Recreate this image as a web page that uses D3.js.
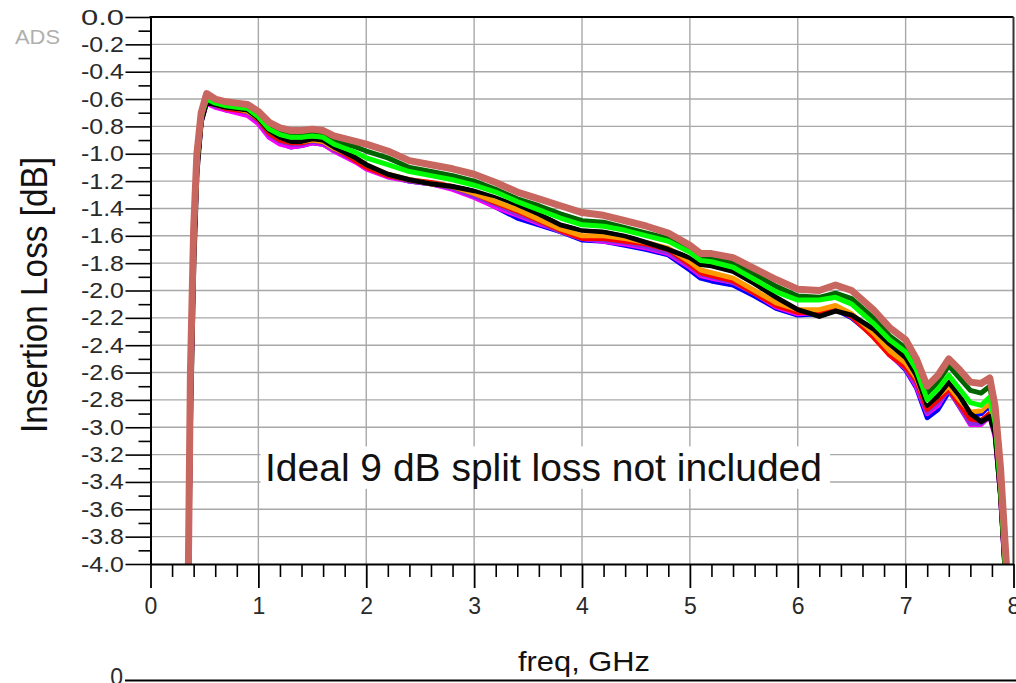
<!DOCTYPE html>
<html><head><meta charset="utf-8">
<script src="https://cdn.jsdelivr.net/npm/d3@7"></script>
<style>html,body{margin:0;padding:0;background:#fff;overflow:hidden}</style>
</head><body>
<svg id="chart" width="1016" height="683"></svg>
<script>
// ---------- data ----------
const freqGHz = [0.33,0.35,0.37,0.40,0.43,0.47,0.52,0.6,0.7,0.8,0.9,1.0,1.1,1.2,1.3,1.4,1.5,1.6,1.7,1.8,1.9,2.0,2.2,2.4,2.6,2.8,3.0,3.2,3.4,3.6,3.8,4.0,4.2,4.4,4.6,4.8,5.0,5.1,5.2,5.4,5.6,5.8,6.0,6.2,6.35,6.5,6.7,6.85,7.0,7.1,7.2,7.3,7.4,7.5,7.6,7.7,7.78,7.83,7.88,7.93,7.98];

const lossBlue = [-5.0,-4.3,-2.85,-1.72,-1.1,-0.76,-0.62, -0.65,-0.68,-0.69,-0.71,-0.77, -0.87,-0.92,-0.95,-0.94,-0.92,-0.93,-0.97,-1.01,-1.05,-1.10, -1.16,-1.20,-1.22,-1.25,-1.31,-1.39,-1.47,-1.52,-1.57,-1.63,-1.64,-1.67,-1.70,-1.74,-1.85, -1.91, -1.93,-1.96,-2.04,-2.13,-2.18,-2.17, -2.14,-2.20,-2.33,-2.46,-2.58, -2.71,-2.93,-2.87,-2.74,-2.82,-2.92,-2.90, -2.84,-3.01,-3.48,-4.12,-4.8];
const lossMagenta = [-5.0,-4.3,-2.85,-1.72,-1.1,-0.76,-0.63, -0.66,-0.68,-0.70,-0.72,-0.78, -0.88,-0.93,-0.95,-0.94,-0.92,-0.93,-0.98,-1.02,-1.06,-1.11, -1.17,-1.20,-1.22,-1.26,-1.32,-1.39,-1.45,-1.51,-1.56,-1.62,-1.64,-1.66,-1.69,-1.73,-1.83, -1.89, -1.91,-1.94,-2.02,-2.12,-2.17,-2.16, -2.13,-2.19,-2.32,-2.47,-2.57, -2.70,-2.90,-2.84,-2.71,-2.85,-2.98,-2.98, -2.92,-3.07,-3.50,-4.15,-4.8];
const lossPurple = [-5.0,-4.3,-2.85,-1.72,-1.1,-0.76,-0.62, -0.65,-0.67,-0.68,-0.70,-0.76, -0.86,-0.91,-0.93,-0.93,-0.91,-0.92,-0.97,-1.01,-1.05,-1.10, -1.16,-1.20,-1.22,-1.25,-1.31,-1.37,-1.44,-1.50,-1.57,-1.62,-1.63,-1.65,-1.68,-1.72,-1.82, -1.88, -1.90,-1.94,-2.02,-2.11,-2.16,-2.15, -2.12,-2.19,-2.33,-2.46,-2.57, -2.68,-2.89,-2.82,-2.73,-2.85,-2.97,-2.97, -2.92,-3.05,-3.50,-4.15,-4.8];
const lossRed = [-5.0,-4.25,-2.8,-1.7,-1.08,-0.75,-0.62, -0.64,-0.67,-0.68,-0.69,-0.75, -0.85,-0.90,-0.92,-0.92,-0.90,-0.91,-0.96,-1.00,-1.05,-1.10, -1.16,-1.19,-1.21,-1.24,-1.29,-1.36,-1.42,-1.49,-1.56,-1.62,-1.62,-1.64,-1.66,-1.70,-1.81, -1.87, -1.89,-1.93,-2.02,-2.11,-2.16,-2.16, -2.13,-2.19,-2.34,-2.47,-2.56, -2.66,-2.87,-2.80,-2.72,-2.83,-2.94,-2.95, -2.90,-3.03,-3.48,-4.12,-4.8];
const lossOrange = [-5.0,-4.25,-2.8,-1.7,-1.08,-0.74,-0.61, -0.64,-0.66,-0.67,-0.69,-0.74, -0.83,-0.88,-0.91,-0.91,-0.90,-0.91,-0.96,-0.99,-1.03,-1.08, -1.15,-1.19,-1.22,-1.24,-1.29,-1.35,-1.41,-1.48,-1.55,-1.60,-1.60,-1.62,-1.65,-1.69,-1.79, -1.85, -1.87,-1.91,-2.00,-2.09,-2.14,-2.14, -2.11,-2.17,-2.31,-2.44,-2.53, -2.64,-2.84,-2.77,-2.70,-2.80,-2.89,-2.88, -2.82,-2.99,-3.45,-4.10,-4.8];
const lossBlack = [-5.0,-4.4,-3.0,-1.85,-1.15,-0.77,-0.62, -0.64,-0.66,-0.67,-0.68,-0.74, -0.83,-0.88,-0.91,-0.91,-0.89,-0.90,-0.95,-0.99,-1.03,-1.08, -1.15,-1.19,-1.22,-1.24,-1.27,-1.31,-1.37,-1.44,-1.52,-1.56,-1.57,-1.60,-1.65,-1.70,-1.76, -1.81, -1.82,-1.86,-1.95,-2.05,-2.14,-2.19, -2.15,-2.18,-2.28,-2.39,-2.49, -2.62,-2.84,-2.77,-2.67,-2.77,-2.90,-2.96, -2.92,-3.05,-3.50,-4.15,-4.8];
const lossWhite = [-5.0,-4.25,-2.8,-1.68,-1.07,-0.74,-0.61, -0.63,-0.65,-0.66,-0.68,-0.73, -0.82,-0.87,-0.89,-0.89,-0.88,-0.89,-0.94,-0.97,-1.00,-1.04, -1.10,-1.15,-1.18,-1.21,-1.25,-1.30,-1.36,-1.42,-1.49,-1.54,-1.55,-1.58,-1.62,-1.66,-1.74, -1.79, -1.80,-1.84,-1.93,-2.02,-2.08,-2.09, -2.07,-2.12,-2.24,-2.36,-2.46, -2.60,-2.82,-2.74,-2.64,-2.74,-2.84,-2.86, -2.80,-2.99,-3.45,-4.10,-4.8];
const lossDarkGreen = [-5.0,-4.2,-2.7,-1.62,-1.04,-0.72,-0.59, -0.62,-0.64,-0.65,-0.66,-0.71, -0.80,-0.84,-0.86,-0.86,-0.85,-0.86,-0.90,-0.93,-0.95,-0.98, -1.03,-1.10,-1.13,-1.16,-1.20,-1.26,-1.33,-1.38,-1.44,-1.49,-1.50,-1.54,-1.58,-1.62,-1.70, -1.76, -1.76,-1.80,-1.88,-1.97,-2.04,-2.05, -2.02,-2.06,-2.20,-2.33,-2.42, -2.55,-2.75,-2.67,-2.55,-2.64,-2.73,-2.75, -2.70,-2.92,-3.40,-4.05,-4.7];
const lossGreen = [-5.0,-4.2,-2.75,-1.65,-1.06,-0.73,-0.60, -0.63,-0.65,-0.66,-0.67,-0.73, -0.82,-0.86,-0.88,-0.88,-0.87,-0.88,-0.93,-0.96,-0.99,-1.03, -1.08,-1.13,-1.16,-1.19,-1.23,-1.28,-1.35,-1.41,-1.47,-1.52,-1.53,-1.56,-1.60,-1.64,-1.72, -1.78, -1.79,-1.83,-1.92,-2.01,-2.07,-2.07, -2.05,-2.10,-2.24,-2.36,-2.45, -2.58,-2.80,-2.72,-2.62,-2.72,-2.82,-2.84, -2.78,-2.97,-3.45,-4.10,-4.8];
const lossBrown = [-5.0,-4.1,-2.6,-1.55,-1.0,-0.70,-0.56, -0.60,-0.62,-0.63,-0.64,-0.69, -0.77,-0.81,-0.83,-0.83,-0.82,-0.83,-0.87,-0.89,-0.91,-0.93, -0.98,-1.05,-1.08,-1.11,-1.15,-1.21,-1.28,-1.33,-1.38,-1.43,-1.45,-1.49,-1.53,-1.58,-1.67, -1.73, -1.73,-1.76,-1.84,-1.92,-1.99,-2.00, -1.96,-2.00,-2.14,-2.27,-2.36, -2.50,-2.70,-2.62,-2.50,-2.58,-2.67,-2.68, -2.64,-2.85,-3.30,-3.95,-4.6];

const traceNames = ["blue","magenta","purple","red","orange","black","white","darkgreen","green","brown"];
const traceValues = [lossBlue,lossMagenta,lossPurple,lossRed,lossOrange,lossBlack,lossWhite,lossDarkGreen,lossGreen,lossBrown];

const yTicks = [0,-0.2,-0.4,-0.6,-0.8,-1.0,-1.2,-1.4,-1.6,-1.8,-2.0,-2.2,-2.4,-2.6,-2.8,-3.0,-3.2,-3.4,-3.6,-3.8,-4.0];
const yTickLabels = ["0.0","-0.2","-0.4","-0.6","-0.8","-1.0","-1.2","-1.4","-1.6","-1.8","-2.0","-2.2","-2.4","-2.6","-2.8","-3.0","-3.2","-3.4","-3.6","-3.8","-4.0"];
const yMinorTicks = [-0.1,-0.3,-0.5,-0.7,-0.9,-1.1,-1.3,-1.5,-1.7,-1.9,-2.1,-2.3,-2.5,-2.7,-2.9,-3.1,-3.3,-3.5,-3.7,-3.9];
const xTicks = [0,1,2,3,4,5,6,7,8];
const xTickLabels = ["0","1","2","3","4","5","6","7","8"];
const xMinorTicks = [0.2,0.4,0.6,0.8,1.2,1.4,1.6,1.8,2.2,2.4,2.6,2.8,3.2,3.4,3.6,3.8,4.2,4.4,4.6,4.8,5.2,5.4,5.6,5.8,6.2,6.4,6.6,6.8,7.2,7.4,7.6,7.8];

const titleY = "Insertion Loss [dB]";
const titleX = "freq, GHz";
const noteText = "Ideal 9 dB split loss not included";

// ---------- styles ----------
const traceStyle = {
  blue:{c:"#0000ff",w:5}, magenta:{c:"#ff00ff",w:5}, purple:{c:"#8a2be2",w:5},
  red:{c:"#ff0000",w:5}, orange:{c:"#ff9900",w:5}, black:{c:"#000000",w:5},
  white:{c:"#ffffff",w:1.2}, darkgreen:{c:"#006400",w:5}, green:{c:"#00ff00",w:5},
  brown:{c:"#c8675f",w:7}
};
const FONT = "'Liberation Sans', Arial, Helvetica, sans-serif";

const svg = d3.select("#chart");
const X0 = 150.5, X1 = 1013.5, Y0 = 17, Y1 = 564;
const x = d3.scaleLinear().domain([0,8]).range([X0,X1]);
const y = d3.scaleLinear().domain([0,-4]).range([Y0,Y1]);

svg.append("rect").attr("width",1016).attr("height",683).attr("fill","#fff");

// grid
const grid = svg.append("g").attr("stroke","#a8a8a8").attr("stroke-width",1.4);
grid.selectAll("line.h").data(yTicks.filter(v => v < 0 && v > -4)).join("line")
  .attr("x1",X0).attr("x2",X1).attr("y1",d=>y(d)).attr("y2",d=>y(d));
grid.selectAll("line.v").data(xTicks.filter(v => v > 0 && v < 8)).join("line")
  .attr("y1",Y0).attr("y2",Y1).attr("x1",d=>x(d)).attr("x2",d=>x(d));

// annotation box (covers grid)
const noteG = svg.append("g");
noteG.append("rect").attr("x",x(1.02)).attr("y",y(-3.14)).attr("width",x(6.3)-x(1.02)).attr("height",y(-3.45)-y(-3.14)).attr("fill","#fff");

// traces
svg.append("clipPath").attr("id","plotclip").append("rect")
  .attr("x",X0).attr("y",Y0).attr("width",X1-X0).attr("height",Y1-Y0);
const line = d3.line().x((d,i)=>x(freqGHz[i])).y(d=>y(d));
const tg = svg.append("g").attr("clip-path","url(#plotclip)");
traceNames.forEach((n,k) => {
  tg.append("path").attr("d", line(traceValues[k]))
    .attr("fill","none").attr("stroke",traceStyle[n].c).attr("stroke-width",traceStyle[n].w)
    .attr("stroke-linejoin","round").attr("stroke-linecap","butt");
});

// annotation text
noteG.raise();
noteG.append("text").attr("x",265).attr("y",481).attr("font-family",FONT).attr("font-size",38)
  .attr("fill","#111").attr("textLength",557).attr("lengthAdjust","spacingAndGlyphs").text(noteText);

// frame
svg.append("line").attr("x1",X0-1).attr("x2",X1).attr("y1",Y0).attr("y2",Y0).attr("stroke","#000").attr("stroke-width",2.2);
svg.append("line").attr("x1",X1).attr("x2",X1).attr("y1",Y0).attr("y2",Y1).attr("stroke","#333").attr("stroke-width",2);

// y axis
const yAxis = svg.append("g").attr("transform",`translate(${X0},0)`)
  .call(d3.axisLeft(y).tickValues(yTicks).tickSize(25).tickSizeOuter(0).tickPadding(1.5)
        .tickFormat((d,i)=>yTickLabels[i]));
yAxis.select(".domain").attr("stroke","#000").attr("stroke-width",2);
yAxis.selectAll(".tick line").attr("stroke","#000").attr("stroke-width",1.6);
yAxis.selectAll(".tick text").attr("font-family",FONT).attr("font-size",22).attr("fill","#2a2a2a")
  .attr("textLength",43).attr("lengthAdjust","spacingAndGlyphs");
const yMinor = svg.append("g").attr("transform",`translate(${X0},0)`)
  .call(d3.axisLeft(y).tickValues(yMinorTicks).tickSize(12).tickSizeOuter(0).tickFormat(""));
yMinor.select(".domain").remove();
yMinor.selectAll(".tick line").attr("stroke","#000").attr("stroke-width",1.6);

// x axis
const xAxis = svg.append("g").attr("transform",`translate(0,${Y1})`)
  .call(d3.axisBottom(x).tickValues(xTicks).tickSize(24).tickSizeOuter(0).tickPadding(10)
        .tickFormat((d,i)=>xTickLabels[i]));
xAxis.select(".domain").attr("stroke","#000").attr("stroke-width",2);
xAxis.selectAll(".tick line").attr("stroke","#000").attr("stroke-width",1.8);
xAxis.selectAll(".tick text").attr("font-family",FONT).attr("font-size",23).attr("fill","#2a2a2a");
const xMinor = svg.append("g").attr("transform",`translate(0,${Y1})`)
  .call(d3.axisBottom(x).tickValues(xMinorTicks).tickSize(13).tickSizeOuter(0).tickFormat(""));
xMinor.select(".domain").remove();
xMinor.selectAll(".tick line").attr("stroke","#000").attr("stroke-width",1.6);

// titles
svg.append("text").attr("transform","translate(47,295) rotate(-90) scale(1,1.13)")
  .attr("text-anchor","middle").attr("font-family",FONT).attr("font-size",33).attr("fill","#111")
  .attr("textLength",276).attr("lengthAdjust","spacingAndGlyphs").text(titleY);
svg.append("text").attr("x",584).attr("y",671).attr("text-anchor","middle")
  .attr("font-family",FONT).attr("font-size",28).attr("fill","#111")
  .attr("textLength",132).attr("lengthAdjust","spacingAndGlyphs").text(titleX);

// ADS tag
svg.append("text").attr("x",15).attr("y",44).attr("font-family",FONT).attr("font-size",20)
  .attr("fill","#b0b0b0").attr("textLength",45).attr("lengthAdjust","spacingAndGlyphs").text("ADS");

// top of the next (lower) plot, cut off by the window
svg.append("line").attr("x1",125).attr("x2",1016).attr("y1",680.5).attr("y2",680.5).attr("stroke","#000").attr("stroke-width",2);
svg.append("text").attr("x",123).attr("y",684.5).attr("text-anchor","end").attr("font-family",FONT)
  .attr("font-size",23).attr("fill","#2a2a2a").text("0");
</script>
</body></html>
